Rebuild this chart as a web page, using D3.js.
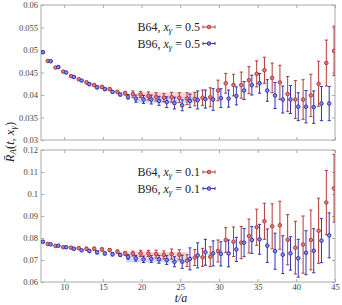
<!DOCTYPE html>
<html>
<head>
<meta charset="utf-8">
<script src="https://cdn.jsdelivr.net/npm/d3@7"></script>
<style>
  body { margin: 0; background: #fff; }
  svg text { font-family: 'Liberation Serif', 'DejaVu Serif', serif; }
</style>
</head>
<body>
<div id="chart"></div>
<script>
// t/a values
const tB64 = [7, 8, 9, 10, 11, 12, 13, 14, 15, 16, 17, 18, 19, 20, 21, 22, 23, 24, 25, 26,
  27, 28, 29, 30, 31, 32, 33, 34, 35, 36, 37, 38, 39, 40, 41, 42, 43, 44, 45];
const tB96 = [7, 8, 9, 10, 11, 12, 13, 14, 15, 16, 17, 18, 19, 20, 21, 22, 23, 24, 25, 26,
  27, 28, 29, 30, 31, 32, 33, 34, 35, 36, 37, 38, 39, 40, 41, 42, 43, 44];

// x_gamma = 0.5
const b64x05 = [0.0495, 0.04756, 0.0461, 0.0452, 0.0442, 0.0435, 0.0428, 0.0422, 0.0418, 0.0413,
  0.0407, 0.0404, 0.0402, 0.0401, 0.0398, 0.0396, 0.0394, 0.0395, 0.0394, 0.0392,
  0.0391, 0.0394, 0.0395, 0.0410, 0.0426, 0.0422, 0.0422, 0.0433, 0.0447, 0.0455,
  0.0438, 0.0428, 0.0402, 0.0390, 0.0390, 0.0399, 0.0425, 0.0471, 0.0498];
const b64x05err = [0.0002, 0.0002, 0.0002, 0.0002, 0.0002, 0.0002, 0.0003, 0.0003, 0.0003, 0.0003,
  0.0003, 0.0004, 0.0007, 0.0007, 0.0009, 0.0009, 0.0009, 0.0011, 0.0011, 0.0013,
  0.0015, 0.0017, 0.0021, 0.0023, 0.0022, 0.0024, 0.0029, 0.0030, 0.0029, 0.0029,
  0.0033, 0.0038, 0.0039, 0.0042, 0.0044, 0.0047, 0.0050, 0.0051, 0.0055];
const b96x05 = [0.0495, 0.0475, 0.0462, 0.0450, 0.0440, 0.0432, 0.0424, 0.0417, 0.0413, 0.0407,
  0.0401, 0.0396, 0.0392, 0.0390, 0.0390, 0.0387, 0.0384, 0.0382, 0.0377, 0.0387,
  0.0389, 0.0391, 0.0390, 0.0393, 0.0392, 0.0398, 0.0410, 0.0422, 0.0426, 0.0410,
  0.0399, 0.0390, 0.0390, 0.0374, 0.0374, 0.0373, 0.0381, 0.0381];
const b96x05err = [0.0002, 0.0002, 0.0002, 0.0002, 0.0002, 0.0002, 0.0003, 0.0003, 0.0003, 0.0003,
  0.0003, 0.0005, 0.0008, 0.0009, 0.0010, 0.0010, 0.0012, 0.0013, 0.0012, 0.0015,
  0.0020, 0.0020, 0.0024, 0.0021, 0.0019, 0.0020, 0.0020, 0.0022, 0.0022, 0.0024,
  0.0029, 0.0030, 0.0031, 0.0031, 0.0036, 0.0036, 0.0038, 0.0038];

// x_gamma = 0.1
const b64x01 = [0.0783, 0.0773, 0.0764, 0.0758, 0.0756, 0.0754, 0.0751, 0.0751, 0.0748, 0.0745,
  0.0738, 0.0730, 0.0729, 0.0730, 0.0730, 0.0727, 0.0723, 0.0727, 0.0724, 0.0697,
  0.0711, 0.0712, 0.0715, 0.0741, 0.0791, 0.0783, 0.0779, 0.0809, 0.0849, 0.0876,
  0.0853, 0.0858, 0.0792, 0.0756, 0.0770, 0.0791, 0.0833, 0.0961, 0.1026];
const b64x01err = [0.0004, 0.0004, 0.0004, 0.0004, 0.0004, 0.0004, 0.0007, 0.0007, 0.0007, 0.0007,
  0.0007, 0.0009, 0.0011, 0.0014, 0.0014, 0.0018, 0.0018, 0.0023, 0.0023, 0.0027,
  0.0036, 0.0041, 0.0045, 0.0050, 0.0056, 0.0067, 0.0073, 0.0077, 0.0082, 0.0082,
  0.0102, 0.0109, 0.0114, 0.0120, 0.0130, 0.0136, 0.0148, 0.0146, 0.0154];
const b96x01 = [0.0783, 0.0771, 0.0765, 0.0758, 0.0751, 0.0744, 0.0741, 0.0735, 0.0730, 0.0726,
  0.0723, 0.0714, 0.0708, 0.0703, 0.0705, 0.0703, 0.0700, 0.0692, 0.0692, 0.0705,
  0.0721, 0.0735, 0.0730, 0.0728, 0.0730, 0.0748, 0.0779, 0.0791, 0.0794, 0.0765,
  0.0740, 0.0724, 0.0730, 0.0708, 0.0733, 0.0742, 0.0788, 0.0812];
const b96x01err = [0.0004, 0.0004, 0.0004, 0.0004, 0.0004, 0.0004, 0.0007, 0.0007, 0.0007, 0.0007,
  0.0007, 0.0010, 0.0013, 0.0015, 0.0016, 0.0018, 0.0020, 0.0023, 0.0030, 0.0050,
  0.0057, 0.0059, 0.0057, 0.0055, 0.0061, 0.0055, 0.0064, 0.0061, 0.0068, 0.0076,
  0.0082, 0.0086, 0.0076, 0.0086, 0.0100, 0.0100, 0.0100, 0.0102];

// plateau fits: [tmin, tmax, value, error]
const fitB64x05 = [19.4, 27.2, 0.0400, 0.0006];
const fitB96x05 = [19.3, 27.2, 0.0389, 0.0007];
const fitB64x01 = [17.85, 26.0, 0.0725, 0.0011];
const fitB96x01 = [18.05, 25.9, 0.0701, 0.0012];

const xTicks = [10, 15, 20, 25, 30, 35, 40, 45];
const yTicksTop = [0.03, 0.035, 0.04, 0.045, 0.05, 0.055, 0.06];
const yTicksBottom = [0.06, 0.07, 0.08, 0.09, 0.1, 0.11, 0.12];

const red = { line: '#b53a3a', fill: '#e07a7a', band: 'rgba(242,110,110,0.30)' };
const blue = { line: '#3333b3', fill: '#8a8ae6', band: 'rgba(100,130,240,0.30)' };

const width = 342, height = 305;
const svg = d3.select('#chart').append('svg')
  .attr('width', width)
  .attr('height', height);

const x = d3.scaleLinear().domain([7, 45]).range([41, 335]);

function drawPanel(top, bottom, yDomain, yTicks, series, fits, legend, showX) {
  const y = d3.scaleLinear().domain(yDomain).range([bottom, top]);
  const g = svg.append('g');

  const clip = 'clip' + top;
  g.append('clipPath').attr('id', clip)
    .append('rect')
    .attr('x', x.range()[0]).attr('y', top)
    .attr('width', x.range()[1] - x.range()[0]).attr('height', bottom - top);

  // fit bands
  fits.forEach(f => {
    g.append('rect')
      .attr('x', x(f.d[0]))
      .attr('width', x(f.d[1]) - x(f.d[0]))
      .attr('y', y(f.d[2] + f.d[3]))
      .attr('height', y(f.d[2] - f.d[3]) - y(f.d[2] + f.d[3]))
      .attr('fill', f.c.band);
  });

  // frame + ticks
  const fmt = d => String(+d.toFixed(3));
  const axes = [
    { ax: d3.axisLeft(y).tickValues(yTicks).tickFormat(fmt).tickPadding(3), tr: `translate(${x.range()[0]},0)` },
    { ax: d3.axisRight(y).tickValues(yTicks).tickFormat(''), tr: `translate(${x.range()[1]},0)` },
    { ax: d3.axisTop(x).tickValues(xTicks).tickFormat(''), tr: `translate(0,${top})` },
    { ax: d3.axisBottom(x).tickValues(xTicks).tickFormat(showX ? d3.format('d') : '').tickPadding(2), tr: `translate(0,${bottom})` }
  ];
  axes.forEach(a => {
    const ag = g.append('g')
      .attr('transform', a.tr)
      .call(a.ax.tickSize(-3));
    ag.select('.domain').remove();
    ag.selectAll('.tick line').attr('stroke', '#aaa');
    ag.selectAll('.tick text')
      .attr('fill', '#444')
      .style('font-size', '8.5px');
  });
  g.append('rect')
    .attr('x', x.range()[0]).attr('y', top)
    .attr('width', x.range()[1] - x.range()[0]).attr('height', bottom - top)
    .attr('fill', 'none').attr('stroke', '#aaa').attr('stroke-width', 1);

  // error bars and points
  series.forEach(s => {
    const pts = s.t.map((t, i) => ({ t: t + s.dx, v: s.v[i], e: s.e[i] }));
    const sg = g.append('g').attr('clip-path', `url(#${clip})`);
    const bars = sg.selectAll('g.bar').data(pts).enter().append('g');
    bars.append('line')
      .attr('x1', d => x(d.t)).attr('x2', d => x(d.t))
      .attr('y1', d => y(d.v - d.e)).attr('y2', d => y(d.v + d.e))
      .attr('stroke', s.c.line).attr('stroke-width', 1);
    [-1, 1].forEach(k => {
      bars.append('line')
        .attr('x1', d => x(d.t) - 1.6).attr('x2', d => x(d.t) + 1.6)
        .attr('y1', d => y(d.v + k * d.e)).attr('y2', d => y(d.v + k * d.e))
        .attr('stroke', s.c.line).attr('stroke-width', 1);
    });
    sg.selectAll('circle').data(pts).enter().append('circle')
      .attr('cx', d => x(d.t)).attr('cy', d => y(d.v))
      .attr('r', 1.8)
      .attr('fill', s.c.fill).attr('stroke', s.c.line).attr('stroke-width', 1);
  });

  // legend
  legend.forEach((l, i) => {
    const ly = top + 22 + i * 16.5;
    const txt = g.append('text')
      .attr('x', 200).attr('y', ly + 4)
      .attr('text-anchor', 'end')
      .style('font-size', '12px')
      .attr('fill', '#222');
    txt.append('tspan').text(l.name + ', ');
    txt.append('tspan').style('font-style', 'italic').text('x');
    txt.append('tspan').attr('dy', 2).style('font-size', '8.5px').style('font-style', 'italic').text('γ');
    txt.append('tspan').attr('dy', -2).text(' = ' + l.xg);
    g.append('line').attr('x1', 203).attr('x2', 215).attr('y1', ly).attr('y2', ly)
      .attr('stroke', l.c.line);
    [203, 215].forEach(px => {
      g.append('line').attr('x1', px).attr('x2', px).attr('y1', ly - 1.6).attr('y2', ly + 1.6)
        .attr('stroke', l.c.line);
    });
    g.append('circle').attr('cx', 209).attr('cy', ly).attr('r', 1.8)
      .attr('fill', l.c.fill).attr('stroke', l.c.line);
  });
}

drawPanel(5, 140, [0.03, 0.06], yTicksTop,
  [{ t: tB64, v: b64x05, e: b64x05err, c: red, dx: -0.12 },
   { t: tB96, v: b96x05, e: b96x05err, c: blue, dx: 0.25 }],
  [{ d: fitB64x05, c: red }, { d: fitB96x05, c: blue }],
  [{ name: 'B64', xg: '0.5', c: red }, { name: 'B96', xg: '0.5', c: blue }],
  false);

drawPanel(150, 282, [0.06, 0.12], yTicksBottom,
  [{ t: tB64, v: b64x01, e: b64x01err, c: red, dx: -0.12 },
   { t: tB96, v: b96x01, e: b96x01err, c: blue, dx: 0.25 }],
  [{ d: fitB64x01, c: red }, { d: fitB96x01, c: blue }],
  [{ name: 'B64', xg: '0.1', c: red }, { name: 'B96', xg: '0.1', c: blue }],
  true);

// axis titles
const yl = svg.append('text')
  .attr('transform', 'translate(14,142) rotate(-90)')
  .attr('text-anchor', 'middle')
  .style('font-size', '12.5px')
  .style('font-style', 'italic')
  .attr('fill', '#222');
yl.append('tspan').text('R\u0304');
yl.append('tspan').attr('dy', 2).style('font-size', '9px').text('A');
yl.append('tspan').attr('dy', -2).style('font-style', 'normal').text('(');
yl.append('tspan').text('t');
yl.append('tspan').style('font-style', 'normal').text(', ');
yl.append('tspan').text('x');
yl.append('tspan').attr('dy', 2).style('font-size', '9px').text('γ');
yl.append('tspan').attr('dy', -2).style('font-style', 'normal').text(')');

svg.append('text')
  .attr('x', 181).attr('y', 302)
  .attr('text-anchor', 'middle')
  .style('font-size', '12px')
  .style('font-style', 'italic')
  .attr('fill', '#222')
  .text('t/a');
</script>
</body>
</html>
